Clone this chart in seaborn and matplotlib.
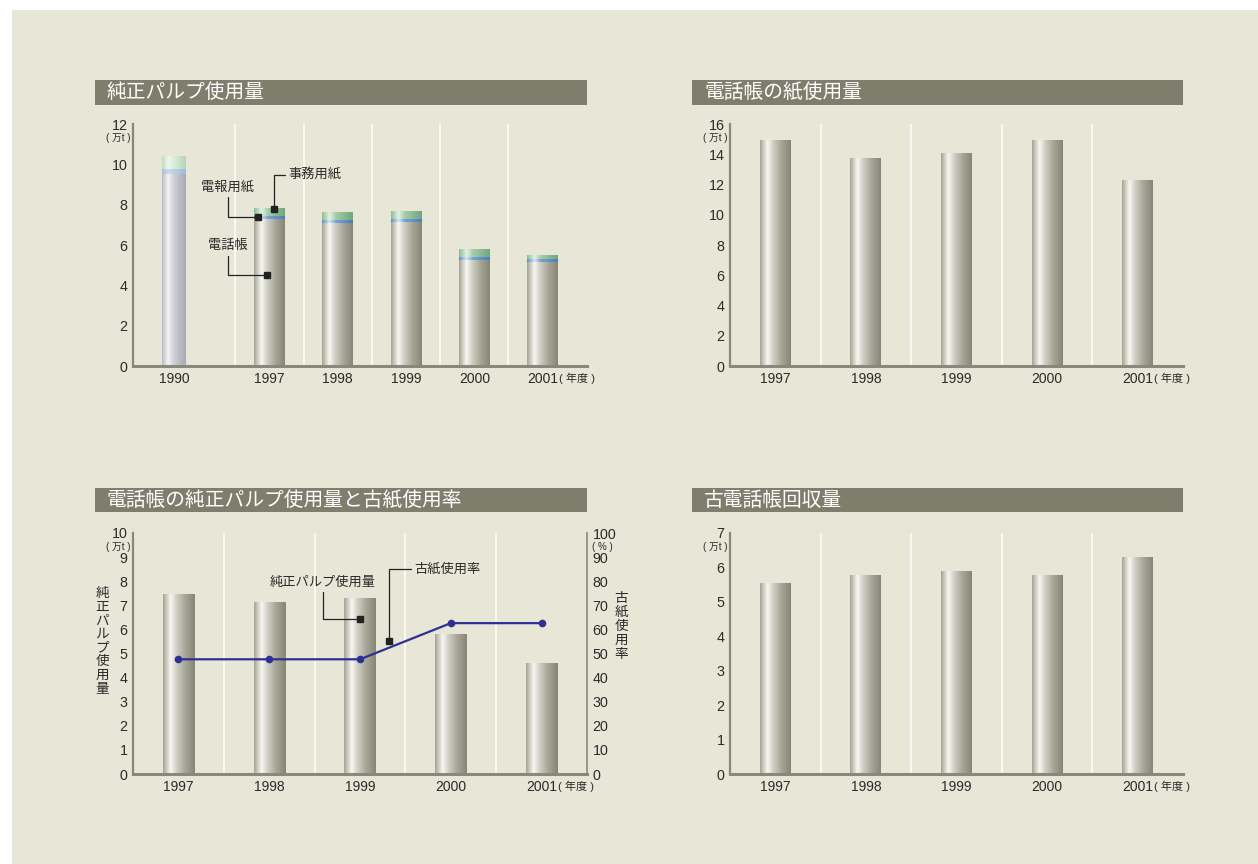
import numpy as np
import matplotlib
matplotlib.use("Agg")
import matplotlib.pyplot as plt
from matplotlib.patches import Rectangle
from matplotlib.colors import to_rgb
import seaborn as sns

# ---------------- data ----------------
pulp_years = [1990, 1997, 1998, 1999, 2000, 2001]
pulp_phonebook = [9.5, 7.25, 7.05, 7.1, 5.25, 5.15]
pulp_telegram = [0.25, 0.15, 0.15, 0.15, 0.15, 0.15]
pulp_office = [0.65, 0.4, 0.4, 0.4, 0.4, 0.2]

paper_years = [1997, 1998, 1999, 2000, 2001]
paper_use = [14.9, 13.7, 14.05, 14.9, 12.25]

pb_years = [1997, 1998, 1999, 2000, 2001]
pb_pulp = [7.45, 7.1, 7.3, 5.8, 4.6]
pb_recycled_rate = [47.6, 47.6, 47.6, 62.6, 62.6]

rec_years = [1997, 1998, 1999, 2000, 2001]
rec_amount = [5.52, 5.76, 5.87, 5.78, 6.28]

titles = ["純正パルプ使用量", "電話帳の紙使用量",
          "電話帳の純正パルプ使用量と古紙使用率", "古電話帳回収量"]

# ---------------- style ----------------
BG = "#e8e6d6"
TITLE_BG = "#7f7d6c"
GRID = "#fbfbf6"
SPINE = "#8a8879"
TXT = "#2a2a2a"
MARK = "#222222"
LINE = "#2e3192"

GRAY = [(0.0, "#a4a495"), (0.1, "#c8c8bc"), (0.24, "#f8f8f3"), (0.42, "#d0d0c5"),
        (0.7, "#a6a596"), (1.0, "#878676")]
GRAY_PALE = [(0.0, "#b6b8c2"), (0.1, "#d2d3da"), (0.26, "#f3f3f6"), (0.45, "#d4d5dc"),
             (0.75, "#b9bac4"), (1.0, "#a9abb5")]
GREEN = [(0.0, "#8dbd97"), (0.24, "#e4f1e4"), (0.45, "#a3cca9"), (1.0, "#6fa77d")]
GREEN_PALE = [(0.0, "#c3dbc1"), (0.26, "#eef6ec"), (1.0, "#b6d4b4")]
BLUE = [(0.0, "#5a8ec8"), (0.24, "#d6e5f4"), (0.45, "#76a3d4"), (1.0, "#4a7ebe")]
BLUE_PALE = [(0.0, "#a4c0de"), (0.26, "#cadcee"), (1.0, "#9cbada")]

sns.set_style("white")
plt.rcParams["font.family"] = ["Liberation Sans", "Noto Sans CJK JP"]
plt.rcParams["axes.unicode_minus"] = False

W, H = 1258, 864
fig = plt.figure(figsize=(W / 100, H / 100), dpi=100, facecolor="white")
fig.patches.append(Rectangle((12 / W, 0), 1, 1 - 10 / H, transform=fig.transFigure,
                             fc=BG, ec="none", zorder=-10))


def add_axes(l, t, r, b):
    return fig.add_axes([l / W, 1 - b / H, (r - l) / W, (b - t) / H])


def title_bar(l, t, r, b, text):
    fig.patches.append(Rectangle((l / W, 1 - b / H), (r - l) / W, (b - t) / H,
                                 transform=fig.transFigure, fc=TITLE_BG, ec="none", zorder=-5))
    fig.text((l + 12) / W, 1 - (t + b) / 2 / H, text, color="white", fontsize=14.2,
             ha="left", va="center")


def grad(stops, n=96):
    xs = np.linspace(0, 1, n)
    pos = [s for s, _ in stops]
    cols = np.array([to_rgb(c) for _, c in stops])
    return np.stack([np.interp(xs, pos, cols[:, k]) for k in range(3)], axis=-1)[None]


def paint(ax, p, stops, z):
    x0, y0, w, h = p.get_x(), p.get_y(), p.get_width(), p.get_height()
    ax.imshow(grad(stops), extent=(x0, x0 + w, y0, y0 + h), aspect="auto",
              interpolation="bilinear", zorder=z)
    p.set_visible(False)


def draw_bars(ax, x, y, width, native=False):
    n0 = len(ax.patches)
    sns.barplot(x=x, y=y, ax=ax, native_scale=native, errorbar=None,
                color="#aaaaaa", saturation=1, linewidth=0)
    new = list(ax.patches[n0:])
    for p in new:
        c = p.get_x() + p.get_width() / 2
        p.set_x(c - width / 2)
        p.set_width(width)
    return new


def style(ax, xlim, ymax, ystep, mids, ticks_x, labels_x):
    ax.set_facecolor("none")
    ax.set_xlim(*xlim)
    ax.set_ylim(0, ymax)
    yt = np.arange(0, ymax + 1e-9, ystep)
    ax.set_yticks(yt)
    ax.set_yticklabels([f"{v:g}" for v in yt])
    ax.set_yticks(yt[1:-1], minor=True)
    ax.set_xticks(ticks_x)
    ax.set_xticklabels(labels_x)
    ax.set_xticks(mids, minor=True)
    ax.grid(False)
    ax.grid(True, which="minor", color=GRID, lw=1.3)
    ax.set_axisbelow(True)
    for s in ["top", "right"]:
        ax.spines[s].set_visible(False)
    ax.spines["left"].set_color(SPINE)
    ax.spines["left"].set_linewidth(1.6)
    ax.spines["bottom"].set_color(SPINE)
    ax.spines["bottom"].set_linewidth(2.2)
    for s in ax.spines.values():
        s.set_zorder(10)
    ax.tick_params(which="both", length=0)
    ax.tick_params(axis="y", pad=4, labelsize=10.3, labelcolor=TXT)
    ax.tick_params(axis="x", pad=4.5, labelsize=10, labelcolor=TXT)
    ax.set_xlabel("")
    ax.set_ylabel("")
    ax.annotate("( 万t )", xy=(0, 1), xycoords="axes fraction", xytext=(-1.5, -10),
                textcoords="offset points", ha="right", va="center", fontsize=7, color=TXT)
    ax.annotate("( 年度 )", xy=(ticks_x[-1], 0), xycoords=("data", "axes fraction"),
                xytext=(11.5, -9), textcoords="offset points", ha="left", va="center",
                fontsize=8, color=TXT)


def callout(ax, text, xy, off_px, angA, angB, ha):
    ax.plot([xy[0]], [xy[1]], ls="none", marker="s", ms=4.5, color=MARK, zorder=12)
    ax.annotate(text, xy=xy, xytext=(off_px[0] * 0.72, -off_px[1] * 0.72),
                textcoords="offset points", ha=ha, va="center", fontsize=9.5, color=TXT,
                zorder=12,
                arrowprops=dict(arrowstyle="-", color=MARK, lw=0.9, shrinkA=0, shrinkB=0,
                                connectionstyle=f"angle,angleA={angA},angleB={angB},rad=0"))


# ---------------- axes & title bars ----------------
ax_tl = add_axes(133, 124, 587, 366)
ax_tr = add_axes(730, 124, 1183, 366)
ax_bl = add_axes(133, 533, 587, 774)
ax_br = add_axes(730, 533, 1183, 774)

title_bar(95, 80, 587, 105, titles[0])
title_bar(692, 80, 1183, 105, titles[1])
title_bar(95, 488, 587, 512, titles[2])
title_bar(692, 488, 1183, 512, titles[3])

# ---------------- top-left: stacked pulp usage ----------------
tl_slots = [0.0, 1.4, 2.4, 3.4, 4.4, 5.4]   # layout slots (gap after 1990)
tl_telplus = np.add(pulp_phonebook, pulp_telegram)
tl_total = tl_telplus + np.array(pulp_office)

layers = [(tl_total, GREEN, GREEN_PALE, 2.1),
          (tl_telplus, BLUE, BLUE_PALE, 2.2),
          (pulp_phonebook, GRAY, GRAY_PALE, 2.3)]
for vals, st, st_pale, z in layers:
    ps = draw_bars(ax_tl, tl_slots, vals, 0.454, native=True)
    for i, p in enumerate(ps):
        if i == 0:
            c = p.get_x() + p.get_width() / 2
            p.set_x(c - 0.337 / 2)
            p.set_width(0.337)
            paint(ax_tl, p, st_pale, z)
        else:
            paint(ax_tl, p, st, z)

s97 = tl_slots[1]
callout(ax_tl, "事務用紙", (s97 + 0.07, tl_total[1]), (14, -34), 0, 90, "left")
callout(ax_tl, "電報用紙", (s97 - 0.17, tl_telplus[1]), (-30, -29), 90, 0, "center")
callout(ax_tl, "電話帳", (s97 - 0.04, pulp_phonebook[1] * 0.62), (-39, -29), 90, 0, "center")

style(ax_tl, (-0.6, 6.05), 12, 2, [s - 0.5 for s in tl_slots[1:]],
      tl_slots, [str(y) for y in pulp_years])

# ---------------- top-right ----------------
for p in draw_bars(ax_tr, paper_years, paper_use, 0.342):
    paint(ax_tr, p, GRAY, 2.3)
n = len(paper_years)
style(ax_tr, (-0.5, n - 0.5), 16, 2, [i + 0.5 for i in range(n - 1)],
      list(range(n)), [str(y) for y in paper_years])

# ---------------- bottom-right ----------------
for p in draw_bars(ax_br, rec_years, rec_amount, 0.342):
    paint(ax_br, p, GRAY, 2.3)
n = len(rec_years)
style(ax_br, (-0.5, n - 0.5), 7, 1, [i + 0.5 for i in range(n - 1)],
      list(range(n)), [str(y) for y in rec_years])

# ---------------- bottom-left: bars + rate line ----------------
for p in draw_bars(ax_bl, pb_years, pb_pulp, 0.342):
    paint(ax_bl, p, GRAY, 2.3)
n = len(pb_years)

ax2 = ax_bl.twinx()
sns.lineplot(x=np.arange(n), y=pb_recycled_rate, ax=ax2, color=LINE, lw=1.6,
             marker="o", markersize=5.5, markeredgewidth=0, markeredgecolor=LINE)

callout(ax_bl, "純正パルプ使用量", (2, pb_pulp[2] * 0.88), (-37, -37), 90, 0, "center")
callout(ax2, "古紙使用率", (2.32, 55), (25, -72), 0, 90, "left")

style(ax_bl, (-0.5, n - 0.5), 10, 1, [i + 0.5 for i in range(n - 1)],
      list(range(n)), [str(y) for y in pb_years])
ax2.set_xlim(-0.5, n - 0.5)
ax2.set_ylim(0, 100)
ax2.set_yticks(range(0, 101, 10))
ax2.set_yticklabels([str(v) for v in range(0, 101, 10)])
ax2.grid(False)
ax2.set_ylabel("")
ax2.set_xlabel("")
for s in ["top", "left", "bottom"]:
    ax2.spines[s].set_visible(False)
ax2.spines["right"].set_color(SPINE)
ax2.spines["right"].set_linewidth(1.2)
ax2.tick_params(length=0, pad=4, labelsize=10.3, labelcolor=TXT)
ax2.annotate("( % )", xy=(1, 1), xycoords="axes fraction", xytext=(3.5, -10),
             textcoords="offset points", ha="left", va="center", fontsize=7, color=TXT)

ax_bl.text(-0.068, 0.552, "\n".join("純正パルプ使用量"), transform=ax_bl.transAxes,
           ha="center", va="center", fontsize=9.8, linespacing=0.97, color=TXT)
ax_bl.text(1.075, 0.614, "\n".join("古紙使用率"), transform=ax_bl.transAxes,
           ha="center", va="center", fontsize=9.8, linespacing=1.02, color=TXT)

fig.savefig("out.png", dpi=100, facecolor=fig.get_facecolor())
